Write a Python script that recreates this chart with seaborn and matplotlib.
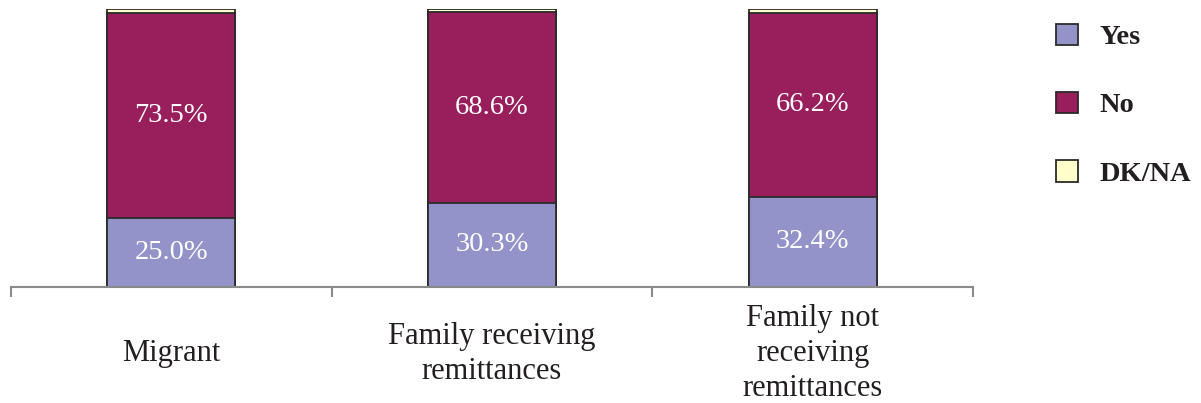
import matplotlib
matplotlib.use("Agg")
import matplotlib.pyplot as plt
import seaborn as sns
import pandas as pd
import numpy as np
from matplotlib.patches import Patch

categories = ["Migrant", "Family receiving\nremittances", "Family not\nreceiving\nremittances"]
yes = [25.0, 30.3, 32.4]
no = [73.5, 68.6, 66.2]
dkna = [1.5, 1.1, 1.4]

series_names = ["Yes", "No", "DK/NA"]
colors = {"Yes": "#9393C9", "No": "#991E5C", "DK/NA": "#FFFFCC"}
edge = "#2b2b2b"
text_dark = "#231f20"

sns.set_theme(style="white")
plt.rcParams["font.family"] = ["Liberation Serif", "DejaVu Serif"]

df = pd.DataFrame({"category": categories, "Yes": yes, "No": no, "DK/NA": dkna})
df["top_yes"] = df["Yes"]
df["top_no"] = df["Yes"] + df["No"]
df["top_dk"] = df["top_no"] + df["DK/NA"]

fig = plt.figure(figsize=(12.01, 4.03), dpi=100)
ax = fig.add_axes([11 / 1201, 1 - 287 / 403, (973 - 11) / 1201, (287 - 9) / 403])

# stacked bars drawn back to front as cumulative totals
for col, name in [("top_dk", "DK/NA"), ("top_no", "No"), ("top_yes", "Yes")]:
    sns.barplot(data=df, x="category", y=col, color=colors[name], saturation=1,
                width=0.4, edgecolor=edge, linewidth=1.3, ax=ax, errorbar=None)

# segment labels
for i in range(len(categories)):
    ax.text(i, yes[i] / 2, f"{yes[i]:.1f}%", ha="center", va="center",
            color="white", fontsize=20.5)
    ax.text(i, yes[i] + no[i] / 2, f"{no[i]:.1f}%", ha="center", va="center",
            color="white", fontsize=20.5)

ax.set_xlim(-0.5, 2.5)
ax.set_ylim(0, 100)
ax.set_xlabel("")
ax.set_ylabel("")
ax.set_yticks([])
for s in ["left", "top", "right"]:
    ax.spines[s].set_visible(False)
ax.spines["bottom"].set_color("#8a8a8a")
ax.spines["bottom"].set_linewidth(1.5)

ax.set_xticks(range(len(categories)))
ax.set_xticklabels(categories, fontsize=22, color=text_dark, linespacing=1.26)
ax.tick_params(axis="x", which="major", length=0, pad=48)
for lab in ax.get_xticklabels():
    lab.set_verticalalignment("center")
ax.set_xticks([-0.5, 0.5, 1.5, 2.5], minor=True)
ax.tick_params(axis="x", which="minor", length=7, width=1.5, color="#8a8a8a",
               direction="out", bottom=True)

handles = [Patch(facecolor=colors[n], edgecolor=edge, linewidth=1.3) for n in series_names]
leg = fig.legend(handles, series_names, loc="upper left",
                 bbox_to_anchor=(1030 / 1201, 1 + 2 / 403),
                 frameon=False, handlelength=0.8, handleheight=0.8,
                 handletextpad=0.75, labelspacing=1.45,
                 prop={"weight": "bold", "size": 20.5})
for t in leg.get_texts():
    t.set_color(text_dark)

fig.savefig("out.png", dpi=100)
